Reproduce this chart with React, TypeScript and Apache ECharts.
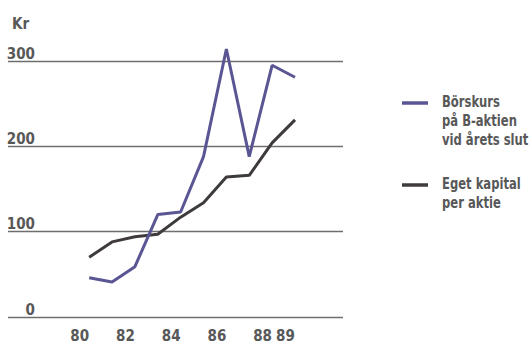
import React, { useEffect, useRef } from "react";
import * as echarts from "echarts";

// Year-end values, kronor per share
const years = [80, 81, 82, 83, 84, 85, 86, 87, 88, 89];
const borskurs = [46, 41, 59, 120, 123, 188, 314, 188, 295, 281];
const egetKapital = [70, 88, 94, 97, 117, 134, 164, 166, 204, 231];
const yearLabels = [80, 82, 84, 86, 88, 89];
const yTicks = [0, 100, 200, 300];

const seriesNames = ["Börskurs\npå B-aktien\nvid årets slut", "Eget kapital\nper aktie"];
const seriesColors = ["#5a5593", "#3f3b3b"];

const textGray = "#585858";
const font = "DejaVu Sans Condensed";

export default function App() {
  const ref = useRef<HTMLDivElement>(null);

  useEffect(() => {
    if (!ref.current) return;
    const chart = echarts.init(ref.current, undefined, { renderer: "svg" });

    const pairs = (vals: number[]) => years.map((y, i) => [y, vals[i]]);

    const legendItems: any[] = [];
    const legendTops = [92, 174];
    seriesNames.forEach((name, i) => {
      const top = legendTops[i];
      legendItems.push({
        type: "line",
        shape: { x1: 402, y1: top + 11, x2: 428, y2: top + 11 },
        style: { stroke: seriesColors[i], lineWidth: 3.5 },
      });
      legendItems.push({
        type: "text",
        x: 442,
        y: top,
        scaleX: 0.86,
        style: {
          text: name,
          fill: textGray,
          font: `bold 15px "${font}"`,
          lineHeight: 19,
          verticalAlign: "top",
          align: "left",
        },
      });
    });

    chart.setOption({
      animation: false,
      backgroundColor: "#ffffff",
      title: {
        text: "Kr",
        left: 7,
        top: 11,
        textStyle: {
          fontFamily: font,
          fontWeight: "bold",
          fontSize: 15,
          color: textGray,
        },
      },
      grid: { left: 8, right: 189, top: 61, bottom: 28, containLabel: false },
      xAxis: {
        type: "value",
        min: 76.45,
        max: 91.1,
        splitLine: { show: false },
        axisLine: { show: false },
        axisTick: { show: false },
        axisLabel: {
          customValues: yearLabels,
          formatter: (v: number) => String(v),
          margin: 11,
          padding: [0, 19, 0, 0],
          color: textGray,
          fontFamily: font,
          fontWeight: "bold",
          fontSize: 15,
        },
      },
      yAxis: {
        type: "value",
        min: 0,
        max: 300,
        interval: 100,
        axisLine: { show: false },
        axisTick: { show: false },
        splitLine: { show: true, lineStyle: { color: "#6e6e6e", width: 1.3 } },
        axisLabel: {
          inside: true,
          margin: 27,
          align: "right",
          verticalAlign: "bottom",
          customValues: yTicks,
          color: textGray,
          fontFamily: font,
          fontWeight: "bold",
          fontSize: 15,
        },
      },
      series: [
        {
          name: seriesNames[0],
          type: "line",
          data: pairs(borskurs),
          symbol: "none",
          clip: false,
          lineStyle: { color: seriesColors[0], width: 3 },
          z: 3,
        },
        {
          name: seriesNames[1],
          type: "line",
          data: pairs(egetKapital),
          symbol: "none",
          clip: false,
          lineStyle: { color: seriesColors[1], width: 3 },
          z: 2,
        },
      ],
      graphic: legendItems,
    });

    return () => chart.dispose();
  }, []);

  return (
    <div
      ref={ref}
      style={{ position: "fixed", left: 0, top: 0, width: 532, height: 345 }}
    />
  );
}
